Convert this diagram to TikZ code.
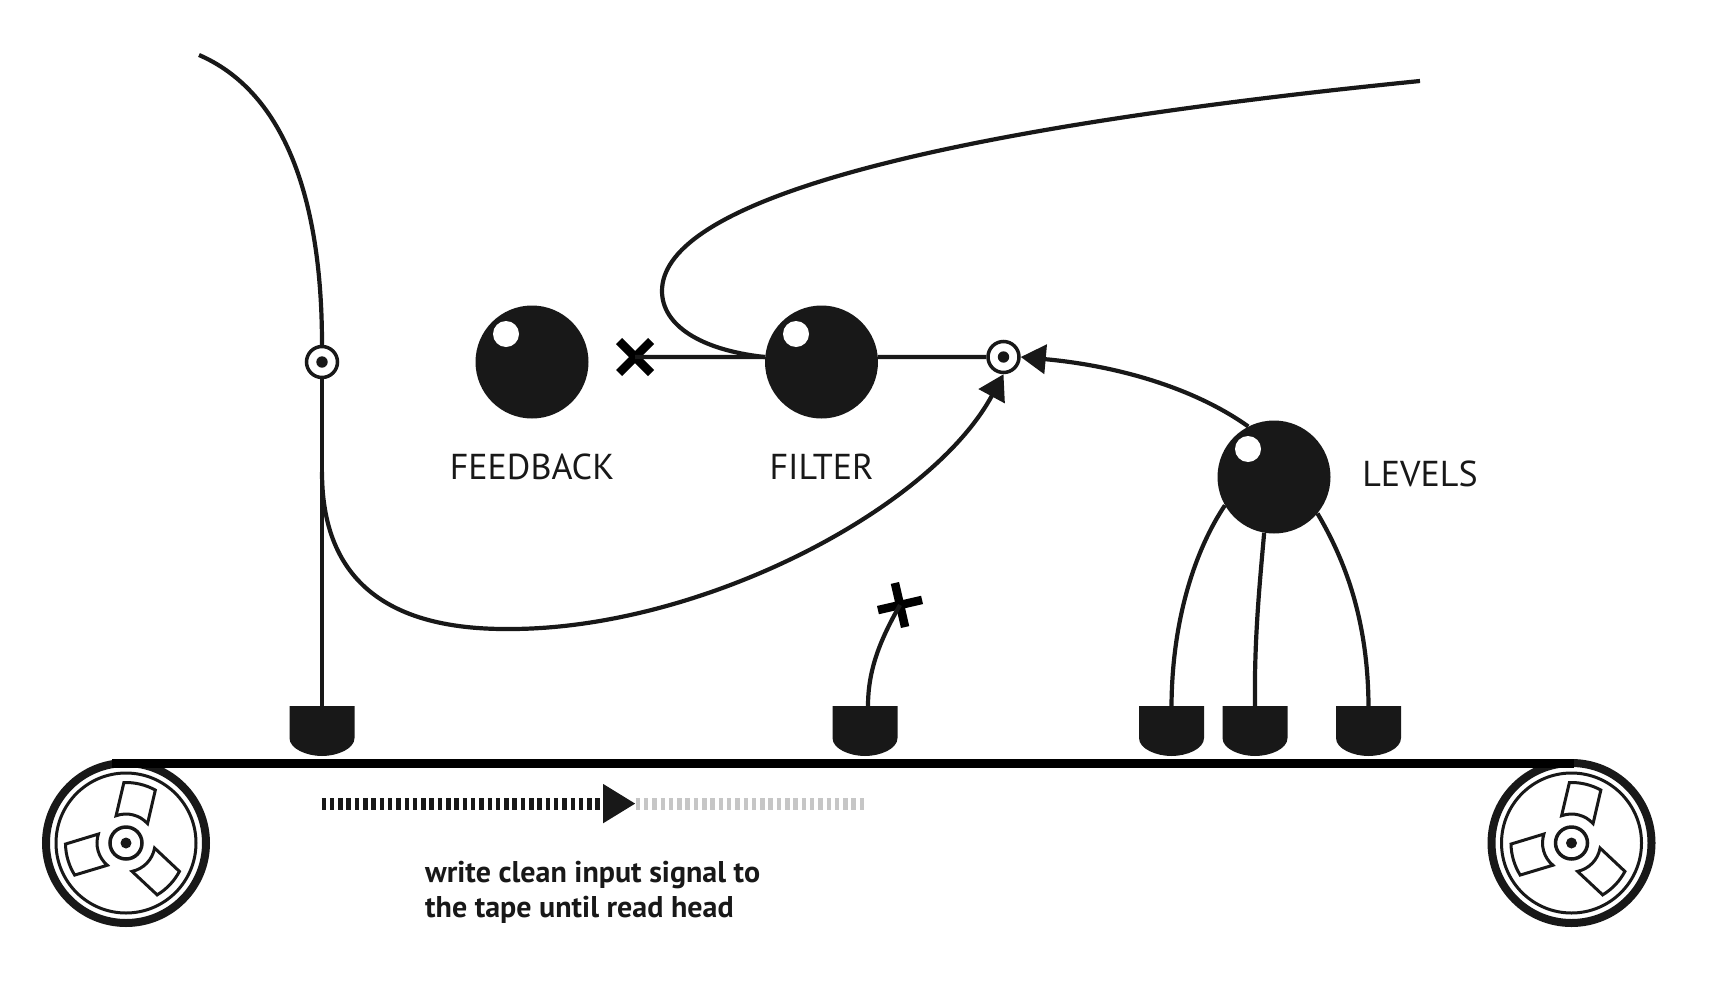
\documentclass[tikz,border=0pt]{standalone}
\usepackage{fontspec}
\setmainfont{PT Sans}
\usepackage{tikz}
\usetikzlibrary{arrows.meta, positioning, calc, shapes.misc}
\definecolor{ink}{HTML}{181818}
\definecolor{ghost}{HTML}{C6C6C6}
\tikzset{
    wire/.style={draw=ink, line width=4.2pt},
    tip/.style={-{Triangle[length=25pt, width=29pt]}},
    knob/.style={circle, fill=ink, inner sep=0pt, minimum size=113pt},
    shine/.style={circle, fill=white, inner sep=0pt, minimum size=26pt},
    mix/.style={circle, draw=ink, fill=white, line width=3.5pt, inner sep=0pt, minimum size=31pt},
    mute/.style={cross out, draw=black, line width=8.5pt, inner sep=0pt, outer sep=0pt, minimum size=32pt},
    caption/.style={font=\fontsize{36}{36}\selectfont, text=ink, inner sep=0pt},
    tapehead/.pic={
        \fill[ink] (-32.5,0) -- (32.5,0) -- (32.5,32) .. controls (32.5,43) and (15,50) .. (0,50)
            .. controls (-15,50) and (-32.5,43) .. (-32.5,32) -- cycle;
        \coordinate (-top) at (0,0);
    },
    reel/.pic={
        \draw[ink, line width=8pt] (0,0) circle (80);
        \draw[ink, line width=3pt] (0,0) circle (70);
        \draw[ink, line width=3.5pt] (0,0) circle (16);
        \fill[ink] (0,0) circle (5.5);
        \foreach \a in {0,120,240} {
            \draw[ink, line width=3pt, line join=miter]
                (110+\a:29) arc[start angle=110+\a, end angle=42+\a, radius=29]
                -- (61+\a:60.5) arc[start angle=61+\a, end angle=92+\a, radius=60.5] -- cycle;
        }
    }
}

\begin{document}
\begin{tikzpicture}[x=1pt, y=-1pt]
    \useasboundingbox (0,0) rectangle (1722,985);

    % Reels
    \pic[yscale=-1] at (126,843) {reel};
    \pic[yscale=-1] at (1571.5,843) {reel};
    \draw[black, line width=8.5pt] (112,763.5) -- (1574,763.5);

    % Heads
    \pic (rec) at (322,706) {tapehead};
    \pic (play) at (865,706) {tapehead};
    \pic (lvla) at (1171.5,706) {tapehead};
    \pic (lvlb) at (1255,706) {tapehead};
    \pic (lvlc) at (1368.5,706) {tapehead};

    % Knobs
    \node[knob] (feedback) at (532,362) {};
    \node[knob] (filter) at (821.5,362) {};
    \node[knob] (levels) at (1274,477) {};
    \node[shine] (feedbackshine) at (506,334) {};
    \node[shine] (filtershine) at (796,334) {};
    \node[shine] (levelsshine) at (1248,449) {};
    \node[caption, below=48pt of feedback.south, anchor=center] (feedbacklabel) {FEEDBACK};
    \node[caption, below=48pt of filter.south, anchor=center] (filterlabel) {FILTER};
    \node[caption] (levelslabel) at (1420,474) {LEVELS};

    % Junctions and cut ends
    \node[mix] (input) at (322,362) {};
    \node[mix] (sum) at (1003.5,357) {};
    \node[mute] (cutleft) at (635,357) {};
    \node[mute, rotate=58] (cutup) at (900,605) {};
    \fill[ink] (input) circle (5.7);
    \fill[ink] (sum) circle (5.7);

    % Input line
    \coordinate (inputstart) at (199,55);
    \coordinate (inputtap) at (322,472);
    \draw[wire] (inputstart) .. controls (280,90) and (322,190) .. (input.north);
    \draw[wire] (input.south) -- (rec-top);
    \draw[wire, tip] (inputtap) .. controls (322,590) and (400,630) .. (510,629)
        .. controls (700,629) and (930,510) .. (sum.south);

    % Filter lines
    \coordinate (filterend) at (1420,81);
    \draw[wire] (cutleft.center) -- (filter.175);
    \draw[wire] (filter.5) -- (sum.west);
    \draw[wire] (filter.175) .. controls (700,350) and (662,325) .. (662,291)
        .. controls (662,210) and (880,135) .. (filterend);

    % Level lines
    \draw[wire, tip] (levels.117) .. controls (1190,385) and (1110,365) .. (sum.east);
    \draw[wire] (lvla-top) .. controls (1172,620) and (1195,550) .. (levels.210);
    \draw[wire] (lvlb-top) .. controls (1254,640) and (1260,580) .. (levels.260);
    \draw[wire] (lvlc-top) .. controls (1368,620) and (1345,560) .. (levels.320);
    \draw[wire] ([xshift=3pt]play-top) .. controls (868,670) and (880,640) .. (cutup.center);

    % Progress
    \coordinate (tapestart) at (321.5,803.6);
    \coordinate (tapenow) at (635.6,803.6);
    \coordinate (tapeend) at (865,803.6);
    \draw[ghost, line width=12pt, dash pattern=on 4.5pt off 3.8pt] (tapenow) -- (tapeend);
    \draw[ink, line width=12pt, dash pattern=on 4.5pt off 3.8pt,
        -{Triangle[length=32.6pt, width=37pt]}] (tapestart) -- (tapenow);
    \node[font=\fontsize{30}{35}\selectfont\bfseries, text=ink, align=left, anchor=north west, inner sep=0pt] (note) at (425,861)
        {write clean input signal to\\the tape until read head};
\end{tikzpicture}
\end{document}
